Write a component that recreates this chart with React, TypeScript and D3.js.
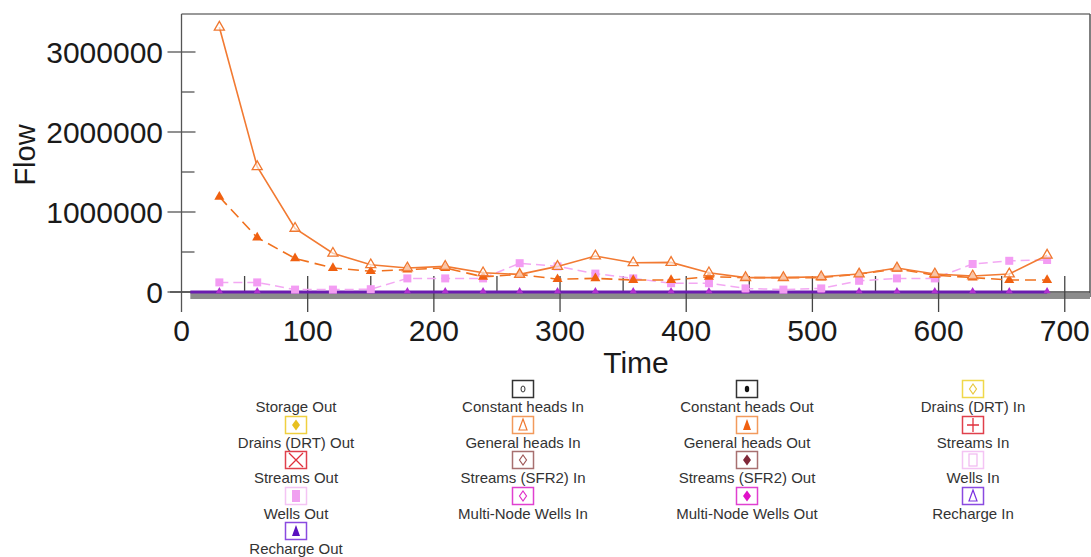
import React from "react";
import * as d3 from "d3";

// Simulation output times (days)
const times = [30, 60, 90, 120, 150, 179, 209, 239, 268, 298, 328, 358, 388, 418, 447, 477, 507, 537, 567, 597, 627, 656, 686];

// Budget terms (flow rates)
const generalHeadsIn = [3310000, 1566000, 796000, 484000, 340000, 300000, 320000, 240000, 220000, 320000, 450000, 365000, 370000, 240000, 180000, 180000, 190000, 225000, 300000, 225000, 200000, 225000, 460000];
const generalHeadsOut = [1190000, 680000, 420000, 300000, 260000, 280000, 300000, 190000, 220000, 160000, 170000, 150000, 150000, 190000, 180000, 180000, 180000, 225000, 290000, 210000, 180000, 150000, 150000];
const wellsOut = [120000, 120000, 30000, 30000, 35000, 170000, 170000, 170000, 360000, 320000, 230000, 170000, 110000, 110000, 45000, 30000, 45000, 140000, 170000, 170000, 350000, 390000, 400000];
const rechargeOut = [10000, 10000, 10000, 10000, 10000, 10000, 10000, 10000, 10000, 10000, 10000, 10000, 10000, 10000, 10000, 10000, 10000, 10000, 10000, 10000, 10000, 10000, 10000];

const yTicks = [0, 1000000, 2000000, 3000000];
const yMinorTicks = [500000, 1500000, 2500000];
const xTicks = [0, 100, 200, 300, 400, 500, 600, 700];
const xMinorTicks = [50, 150, 250, 350, 450, 550, 650];

type Mark = "none" | "ellipseOpen" | "ellipse" | "diamondOpen" | "diamond" | "triangleOpen" | "triangle" | "plus" | "x" | "rectOpen" | "rect";

const legendNames = [
  "Storage Out", "Constant heads In", "Constant heads Out", "Drains (DRT) In",
  "Drains (DRT) Out", "General heads In", "General heads Out", "Streams In",
  "Streams Out", "Streams (SFR2) In", "Streams (SFR2) Out", "Wells In",
  "Wells Out", "Multi-Node Wells In", "Multi-Node Wells Out", "Recharge In",
  "Recharge Out",
];
const legendColors = [
  "#ffffff", "#333333", "#333333", "#f0d84a",
  "#f0d040", "#f29a5c", "#f29a5c", "#e0404c",
  "#e0404c", "#a87070", "#a87070", "#f4c4f4",
  "#f4c4f4", "#e040d0", "#e040d0", "#8a4ae0",
  "#8a4ae0",
];
const legendMarkColors = [
  "#ffffff", "#333333", "#111111", "#e8c840",
  "#e8c020", "#f07830", "#f06010", "#e0303c",
  "#e0303c", "#a05a5a", "#802838", "#f0b8f0",
  "#f0a0f0", "#e030c8", "#e010c8", "#7a30e0",
  "#5a10c0",
];
const legendMarks: Mark[] = [
  "none", "ellipseOpen", "ellipse", "diamondOpen",
  "diamond", "triangleOpen", "triangle", "plus",
  "x", "diamondOpen", "diamond", "rectOpen",
  "rect", "diamondOpen", "diamond", "triangleOpen",
  "triangle",
];

const FONT = "Arial, 'Liberation Sans', sans-serif";

function LegendMark({ kind, color }: { kind: Mark; color: string }) {
  switch (kind) {
    case "ellipseOpen":
      return <ellipse rx={2} ry={3} fill="none" stroke={color} strokeWidth={1} />;
    case "ellipse":
      return <ellipse rx={2.2} ry={3.2} fill={color} />;
    case "diamondOpen":
      return <path d="M0,-5L3.5,0L0,5L-3.5,0Z" fill="none" stroke={color} strokeWidth={1.2} />;
    case "diamond":
      return <path d="M0,-5.5L4,0L0,5.5L-4,0Z" fill={color} />;
    case "triangleOpen":
      return <path d="M0,-6L4,5L-4,5Z" fill="none" stroke={color} strokeWidth={1.2} />;
    case "triangle":
      return <path d="M0,-6L4,5L-4,5Z" fill={color} />;
    case "plus":
      return <path d="M0,-7V7M-6,0H6" stroke={color} strokeWidth={1.3} />;
    case "x":
      return <path d="M-7,-7L7,7M7,-7L-7,7" stroke={color} strokeWidth={1.3} />;
    case "rectOpen":
      return <rect x={-4} y={-6} width={8} height={12} fill="none" stroke={color} strokeWidth={1.2} />;
    case "rect":
      return <rect x={-4} y={-6} width={8} height={12} fill={color} />;
    default:
      return null;
  }
}

export default function App() {
  const width = 1091;
  const height = 557;
  const x = d3.scaleLinear().domain([0, 720]).range([181.5, 1090]);
  const y = d3.scaleLinear().domain([0, 3475000]).range([292, 14]);

  const line = (vals: number[]) =>
    d3.line<number>().x((_, i) => x(times[i])).y((v) => y(v))(vals) || "";

  const triPath = d3.symbol().type(d3.symbolTriangle).size(44)() || "";
  const smallTri = d3.symbol().type(d3.symbolTriangle).size(22)() || "";

  const left = x(0);
  const right = 1090;
  const top = y(3475000);
  const base = y(0);

  const colX = [296, 523, 747, 973];
  const rowTextY = [407, 443, 478, 514, 549];

  return (
    <svg width={width} height={height} style={{ position: "absolute", left: 0, top: 0 }} fontFamily={FONT}>
      <rect width={width} height={height} fill="#ffffff" />

      {/* frame */}
      <line x1={left} x2={right} y1={top} y2={top} stroke="#777" strokeWidth={1.5} />
      <line x1={right} x2={right} y1={top} y2={base + 5} stroke="#555" strokeWidth={1.5} />
      <line x1={left} x2={left} y1={top} y2={312} stroke="#555" strokeWidth={1.3} />

      {/* axis shadow band */}
      <rect x={x(7)} y={base + 1} width={right - x(7)} height={6} fill="#8c8c8c" />
      <line x1={170} x2={right} y1={base} y2={base} stroke="#444" strokeWidth={1.5} />

      {/* y ticks */}
      {yTicks.map((t) => (
        <g key={"y" + t}>
          <line x1={left - 14} x2={left + 14} y1={y(t)} y2={y(t)} stroke="#555" strokeWidth={1.3} />
          <text x={163} y={y(t) + 10.5} fontSize={30} textAnchor="end" fill="#1a1a1a">{t}</text>
        </g>
      ))}
      {yMinorTicks.map((t) => (
        <line key={"ym" + t} x1={left} x2={left + 13} y1={y(t)} y2={y(t)} stroke="#555" strokeWidth={1.3} />
      ))}

      {/* x ticks */}
      {xTicks.map((t) => (
        <g key={"x" + t}>
          {t > 0 && <line x1={x(t)} x2={x(t)} y1={base - 16} y2={312} stroke="#444" strokeWidth={1.3} />}
          <text x={x(t)} y={341} fontSize={30} textAnchor="middle" fill="#1a1a1a">{t}</text>
        </g>
      ))}
      {xMinorTicks.map((t) => (
        <line key={"xm" + t} x1={x(t)} x2={x(t)} y1={base - 16} y2={base} stroke="#444" strokeWidth={1.3} />
      ))}

      {/* axis titles */}
      <text x={636} y={373} fontSize={30} textAnchor="middle" fill="#1a1a1a">Time</text>
      <text transform="translate(35,155) rotate(-90)" fontSize={29} textAnchor="middle" fill="#1a1a1a">Flow</text>

      {/* Recharge Out */}
      <line x1={x(7)} x2={x(686)} y1={base} y2={base} stroke="#6a1cb0" strokeWidth={3} />
      {rechargeOut.map((v, i) => (
        <path key={"ro" + i} d={smallTri} transform={`translate(${x(times[i])},${y(v)})`} fill="#b030d0" />
      ))}

      {/* Wells Out */}
      <path d={line(wellsOut)} fill="none" stroke="#f3a8f3" strokeWidth={1.5} strokeDasharray="9,5" />
      {wellsOut.map((v, i) => (
        <rect key={"wo" + i} x={x(times[i]) - 4} y={y(v) - 4} width={8} height={8} fill="#f39cf3" />
      ))}

      {/* General heads Out */}
      <path d={line(generalHeadsOut)} fill="none" stroke="#f0711e" strokeWidth={1.6} strokeDasharray="11,6" />
      {generalHeadsOut.map((v, i) => (
        <path key={"go" + i} d={triPath} transform={`translate(${x(times[i])},${y(v)})`} fill="#f06010" />
      ))}

      {/* General heads In */}
      <path d={line(generalHeadsIn)} fill="none" stroke="#f27a32" strokeWidth={1.6} />
      {generalHeadsIn.map((v, i) => (
        <path key={"gi" + i} d={triPath} transform={`translate(${x(times[i])},${y(v)})`} fill="#fff" fillOpacity={0.6} stroke="#f07830" strokeWidth={1.3} />
      ))}

      {/* legend */}
      {legendNames.map((name, i) => {
        const col = i % 4;
        const row = Math.floor(i / 4);
        const cx = colX[col];
        const ty = rowTextY[row];
        const iy = ty - 18;
        return (
          <g key={name}>
            {legendMarks[i] !== "none" && (
              <g transform={`translate(${cx},${iy})`}>
                <rect x={-10.5} y={-8.5} width={21} height={17} fill="#fff" stroke={legendColors[i]} strokeWidth={1.5} />
                <LegendMark kind={legendMarks[i]} color={legendMarkColors[i]} />
              </g>
            )}
            <text x={cx} y={ty + 5} fontSize={15} textAnchor="middle" fill="#333">{name}</text>
          </g>
        );
      })}
    </svg>
  );
}
